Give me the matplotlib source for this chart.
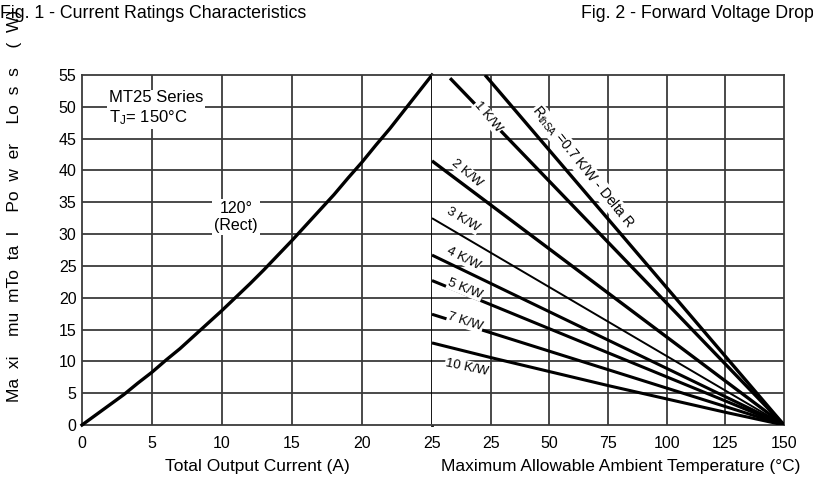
import matplotlib
matplotlib.use("Agg")
import matplotlib.pyplot as plt

plt.rcParams['font.family'] = ['Liberation Sans', 'DejaVu Sans']
plt.rcParams['mathtext.default'] = 'regular'

# ---- data ----
current_A = [0, 1, 2, 3, 4, 5, 6, 7, 8, 9, 10, 11, 12, 13, 14, 15, 16, 17, 18, 19,
             20, 21, 22, 23, 24, 25]
power_W = [0, 1.6, 3.2, 4.8, 6.6, 8.3, 10.2, 12.0, 14.0, 16.0, 18.0, 20.1, 22.2,
           24.4, 26.7, 29.0, 31.4, 33.8, 36.2, 38.8, 41.3, 44.0, 46.6, 49.4, 52.2, 55.0]

left_ticks = [0, 5, 10, 15, 20, 25]
left_ticklabels = ['0', '5', '10', '15', '20', '25']
right_ticks = [25, 50, 75, 100, 125, 150]
right_ticklabels = ['25', '50', '75', '100', '125', '150']
y_ticks = [0, 5, 10, 15, 20, 25, 30, 35, 40, 45, 50, 55]

# heatsink lines
line_names = ['RthSA 0.7', '1 K/W', '2 K/W', '3 K/W', '4 K/W', '5 K/W', '7 K/W', '10 K/W']
line_T = [[22.6, 150], [7.7, 150], [0, 150], [0, 150], [0, 150], [0, 150], [0, 150],
          [0, 25, 50, 75, 100, 125, 150]]
line_P = [[55, 0], [54.5, 0], [41.5, 0], [32.5, 0], [26.7, 0], [22.7, 0], [17.4, 0],
          [12.9, 10.6, 8.4, 6.2, 4.1, 2.0, 0]]
line_widths = [2.4, 2.4, 2.4, 1.4, 2.2, 2.2, 2.2, 2.2]

label_texts = ['R$_{thSA}$ =0.7 K/W - Delta R', '1 K/W', '2 K/W', '3 K/W', '4 K/W',
               '5 K/W', '7 K/W', '10 K/W']
label_x = [64.3, 23.9, 14.9, 13.2, 13.2, 14.1, 14.1, 14.9]
label_y = [40.5, 48.4, 39.6, 32.2, 26.2, 21.4, 16.2, 9.1]
label_rot = [-51, -50, -40, -31, -27, -22, -18, -12]

fig = plt.figure(figsize=(8.13, 4.94), dpi=100)
W, H = 813, 494
y0, y1 = 425, 75
axL = fig.add_axes([82 / W, 1 - y0 / H, 350 / W, (y0 - y1) / H])
axR = fig.add_axes([432 / W, 1 - y0 / H, 352 / W, (y0 - y1) / H])

grid_kw = dict(color='#3a3a3a', linewidth=1.3)
for ax in (axL, axR):
    ax.set_ylim(0, 55)
    for s in ax.spines.values():
        s.set_color('#3a3a3a')
        s.set_linewidth(1.3)
    ax.tick_params(length=0, labelsize=11.5, pad=8)

axL.set_xlim(0, 25)
axL.set_xticks(left_ticks)
axL.set_xticklabels(left_ticklabels)
axL.set_yticks(y_ticks)
axL.set_yticklabels([str(v) for v in y_ticks])
axL.tick_params(axis='y', pad=4)
for v in left_ticks[1:-1]:
    axL.axvline(v, **grid_kw, zorder=1)
for v in y_ticks[1:-1]:
    axL.axhline(v, **grid_kw, zorder=1)
axL.spines['right'].set_color('black')
axL.spines['right'].set_linewidth(2.0)
axL.plot(current_A, power_W, color='black', linewidth=2.4, zorder=3, clip_on=False)

axL.text(1.9, 52.6, 'MT25 Series\nT$_J$= 150°C', fontsize=12, ha='left', va='top',
         linespacing=1.2, zorder=5,
         bbox=dict(facecolor='white', edgecolor='none', pad=1.5))
axL.text(11.0, 32.7, '120°\n(Rect)', fontsize=11.5, ha='center', va='center',
         linespacing=1.15, zorder=5,
         bbox=dict(facecolor='white', edgecolor='none', pad=1.5))

axR.set_xlim(0, 150)
axR.set_xticks(right_ticks)
axR.set_xticklabels(right_ticklabels)
axR.set_yticks([])
axR.spines['left'].set_visible(False)
for v in right_ticks[:-1]:
    axR.axvline(v, **grid_kw, zorder=1)
for v in y_ticks[1:-1]:
    axR.axhline(v, **grid_kw, zorder=1)
for T, P, lw in zip(line_T, line_P, line_widths):
    axR.plot(T, P, color='black', linewidth=lw, zorder=3, solid_capstyle='butt')
for i, (t, x, y, r) in enumerate(zip(label_texts, label_x, label_y, label_rot)):
    axR.text(x, y, t, fontsize=10 if i == 0 else 9.5, ha='center', va='center',
             rotation=r, rotation_mode='anchor', zorder=5,
             bbox=dict(facecolor='white', edgecolor='none', pad=0.5))

fig.text(0 / W, 1 - 14 / H, 'Fig. 1 - Current Ratings Characteristics', fontsize=12.8,
         ha='left', va='center')
fig.text(581 / W, 1 - 14 / H, 'Fig. 2 - Forward Voltage Drop', fontsize=12.8,
         ha='left', va='center')
fig.text(15 / W, 1 - 402 / H, 'Ma  xi    mu  mTo  ta  l    Po  w  er    Lo  s  s    (  W)',
         fontsize=12.5, rotation=90, ha='center', va='bottom')
fig.text(257 / W, 1 - 466 / H, 'Total Output Current (A)', fontsize=12.5,
         ha='center', va='center')
fig.text(621 / W, 1 - 466 / H, 'Maximum Allowable Ambient Temperature (°C)', fontsize=12.5,
         ha='center', va='center')

fig.savefig('out.png', dpi=100)
